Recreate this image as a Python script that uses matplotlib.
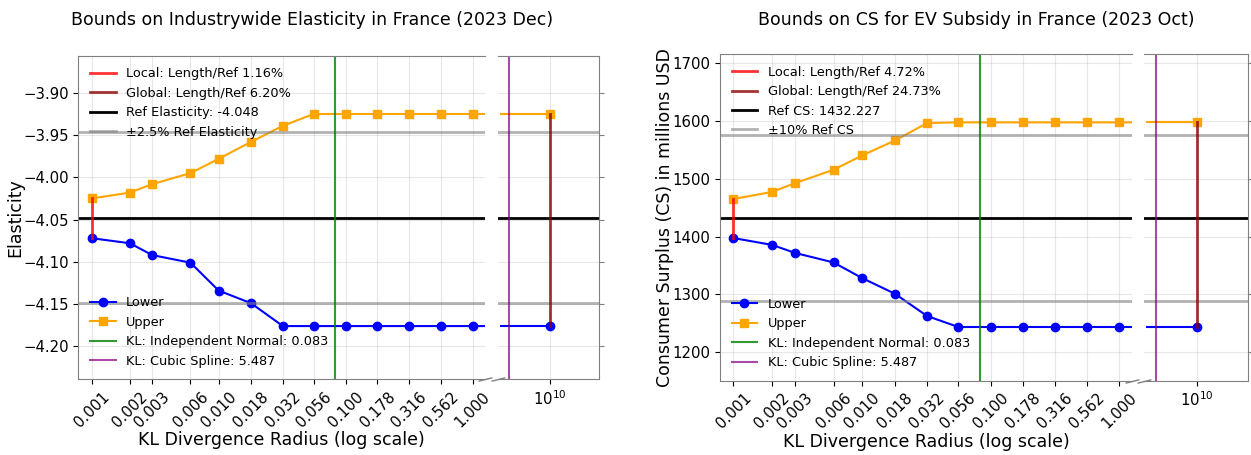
import numpy as np
import matplotlib.pyplot as plt
from matplotlib.ticker import NullLocator

# KL radii: 13 points on the main axis, plus the "infinite" radius shown on the side axis
radii = [0.001, 0.002, 0.003, 0.006, 0.010, 0.018, 0.032, 0.056, 0.100, 0.178, 0.316, 0.562, 1.000]
radius_far = 1e10
radius_labels = ["0.001", "0.002", "0.003", "0.006", "0.010", "0.018", "0.032",
                 "0.056", "0.100", "0.178", "0.316", "0.562", "1.000"]
kl_indep_normal = 0.083
kl_cubic_spline = 5.487

# left panel: elasticity
elas_lower = [-4.072, -4.078, -4.092, -4.101, -4.134, -4.149, -4.176,
              -4.176, -4.176, -4.176, -4.176, -4.176, -4.176, -4.176]
elas_upper = [-4.025, -4.018, -4.008, -3.995, -3.978, -3.958, -3.939,
              -3.925, -3.925, -3.925, -3.925, -3.925, -3.925, -3.925]
elas_ref = -4.048
elas_band = 0.025

# right panel: consumer surplus
cs_lower = [1397.4, 1385.6, 1371.8, 1355.2, 1328.2, 1301.0, 1262.5,
            1243.5, 1243.5, 1243.5, 1243.5, 1243.5, 1243.5, 1243.5]
cs_upper = [1465.0, 1477.4, 1492.4, 1515.6, 1540.4, 1566.3, 1596.5,
            1597.7, 1597.7, 1597.7, 1597.7, 1597.7, 1597.7, 1597.7]
cs_ref = 1432.227
cs_band = 0.10

fig = plt.figure(figsize=(12.51, 4.55), dpi=100)

def panel(ax, ax2, lower, upper, ref, band, ref_label, band_label, ylabel, ylim, title_x, title):
    x = radii + [radius_far]
    lower = np.array(lower)
    upper = np.array(upper)
    local_pct = (upper[0] - lower[0]) / abs(ref) * 100
    global_pct = (upper.max() - lower.min()) / abs(ref) * 100

    h_lo, = ax.plot(x, lower, 'o-', color='blue', markersize=6, lw=1.5, label='Lower')
    h_up, = ax.plot(x, upper, 's-', color='orange', markersize=6, lw=1.5, label='Upper')
    # side axis: only the flat tail, marker just at the far point
    tail = slice(7, None)
    ax2.plot(x[tail], lower[tail], '-', color='blue', lw=1.5)
    ax2.plot(x[tail], upper[tail], '-', color='orange', lw=1.5)
    ax2.plot([radius_far], [lower[-1]], 'o', color='blue', markersize=6)
    ax2.plot([radius_far], [upper[-1]], 's', color='orange', markersize=6)

    for a in (ax, ax2):
        a.set_xscale('log')
        h_ref = a.axhline(ref, color='black', lw=2)
        h_band = a.axhline(ref * (1 + band), color='gray', lw=2, alpha=0.6)
        a.axhline(ref * (1 - band), color='gray', lw=2, alpha=0.6)
        a.grid(True, alpha=0.3)
        a.set_ylim(*ylim)

    h_loc, = ax.plot([radii[0], radii[0]], [lower[0], upper[0]], color='red', lw=2, alpha=0.8)
    h_glob, = ax2.plot([radius_far, radius_far], [lower.min(), upper.max()], color='darkred', lw=2, alpha=0.8)
    h_green = ax.axvline(kl_indep_normal, color='green', lw=1.5, alpha=0.8)
    h_purple = ax2.axvline(kl_cubic_spline, color='purple', lw=1.5, alpha=0.7)

    ax.set_xlim(10 ** -3.105, 10 ** 0.097)
    ax.set_xticks(radii)
    ax.set_xticklabels(radius_labels, rotation=45, fontsize=10.7)
    ax.xaxis.set_minor_locator(NullLocator())
    ax.tick_params(axis='y', labelsize=10.7)
    ax.set_xlabel('KL Divergence Radius (log scale)', fontsize=12.5, labelpad=1)
    ax.set_ylabel(ylabel, fontsize=12.5, labelpad=-1)

    ax2.set_xlim(10 ** -1.85, 10 ** 21.45)
    ax2.set_xticks([radius_far])
    ax2.xaxis.set_minor_locator(NullLocator())
    ax2.tick_params(axis='x', labelsize=10.7)
    ax2.yaxis.tick_right()
    ax2.tick_params(axis='y', labelright=False, colors='gray')

    for a in (ax, ax2):
        for s in a.spines.values():
            s.set_color('gray')
    ax.spines['right'].set_visible(False)
    ax2.spines['left'].set_visible(False)

    # little break marks at the bottom
    mk = dict(marker=[(-1, -0.25), (1, 0.25)], markersize=10, linestyle='none',
              color='gray', mec='gray', mew=1, clip_on=False)
    ax.plot([1], [0], transform=ax.transAxes, **mk)
    ax2.plot([0], [0], transform=ax2.transAxes, **mk)

    leg1 = ax.legend([h_loc, h_glob, h_ref, h_band],
                     [f'Local: Length/Ref {local_pct:.2f}%',
                      f'Global: Length/Ref {global_pct:.2f}%',
                      f'{ref_label}: {ref:.3f}',
                      band_label],
                     loc='upper left', frameon=False, fontsize=9.3)
    ax.add_artist(leg1)
    ax.legend([h_lo, h_up, h_green, h_purple],
              ['Lower', 'Upper', f'KL: Independent Normal: {kl_indep_normal}',
               f'KL: Cubic Spline: {kl_cubic_spline}'],
              loc='lower left', frameon=False, fontsize=9.3)

    fig.text(title_x, 0.955, title, ha='center', va='center', fontsize=12.5)

ax_l = fig.add_axes([0.0626, 0.1664, 0.3251, 0.7112])
ax_l2 = fig.add_axes([0.3983, 0.1664, 0.0807, 0.7112])
panel(ax_l, ax_l2, elas_lower, elas_upper, elas_ref, elas_band, 'Ref Elasticity',
      '±2.5% Ref Elasticity', 'Elasticity', (-4.239, -3.856), 312 / 1251,
      'Bounds on Industrywide Elasticity in France (2023 Dec)')

ax_r = fig.add_axes([0.5755, 0.1626, 0.3293, 0.7187])
ax_r2 = fig.add_axes([0.9147, 0.1626, 0.0827, 0.7187])
panel(ax_r, ax_r2, cs_lower, cs_upper, cs_ref, cs_band, 'Ref CS',
      '±10% Ref CS', 'Consumer Surplus (CS) in millions USD', (1150, 1716), 976 / 1251,
      'Bounds on CS for EV Subsidy in France (2023 Oct)')

fig.savefig('out.png', dpi=100)
